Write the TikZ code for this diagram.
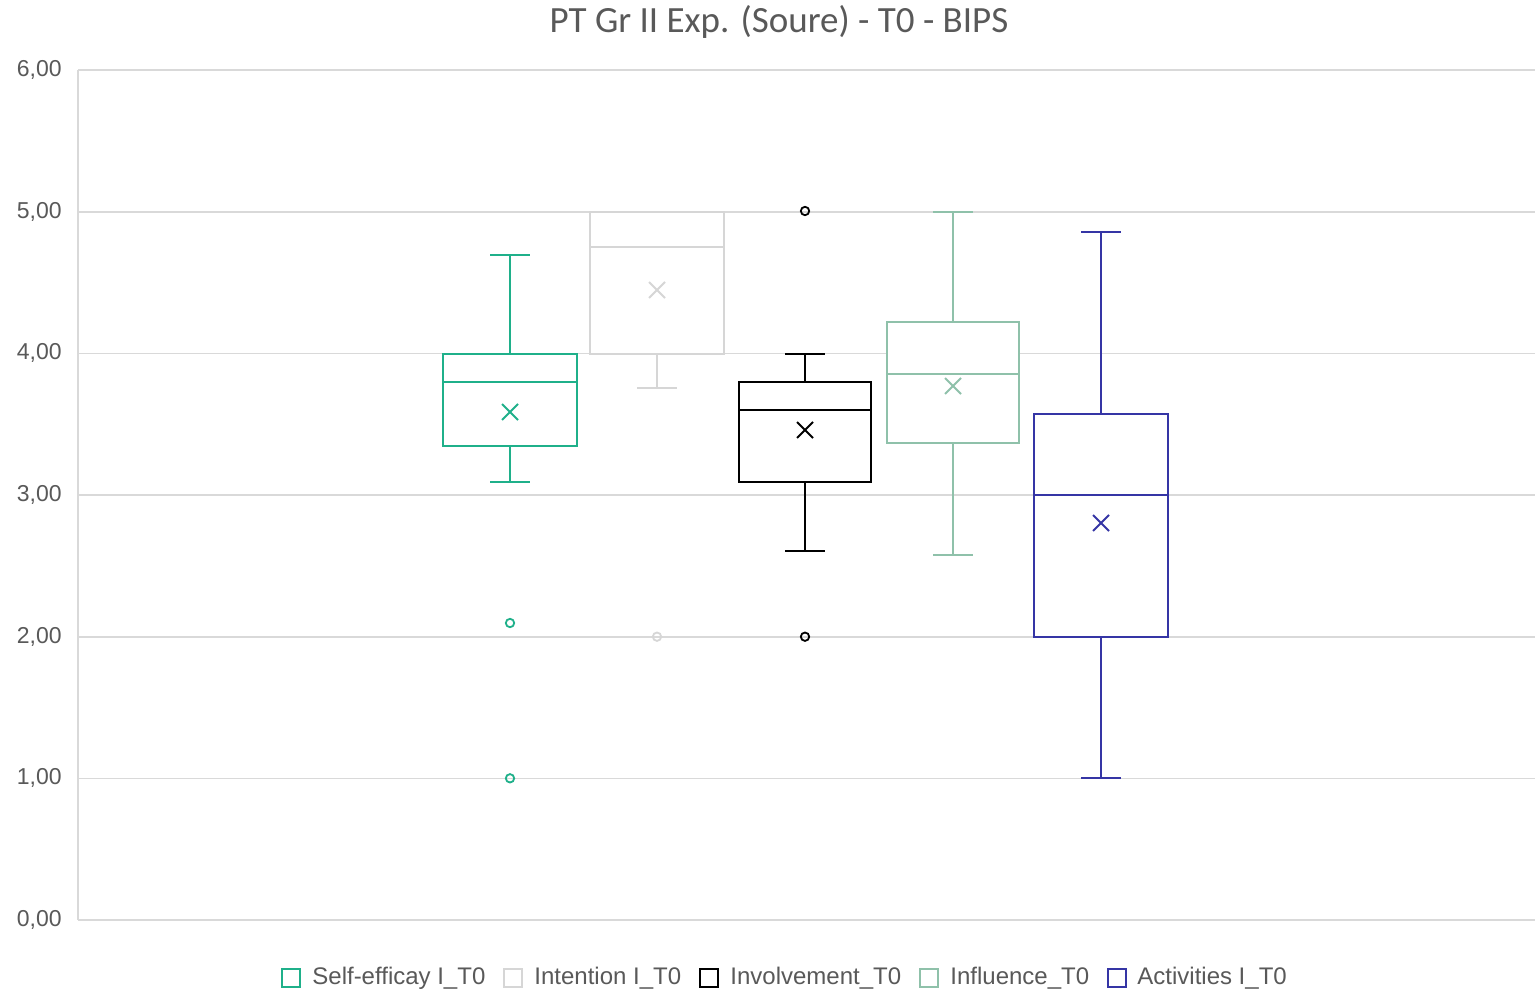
\documentclass[tikz,border=0pt]{standalone}
\usepackage{fontspec}
\setmainfont{Liberation Sans}
\newfontfamily\titlefont{Carlito}
\definecolor{cteal}{HTML}{1FB08A}
\definecolor{cgrayb}{HTML}{D6D6D6}
\definecolor{csage}{HTML}{8FC1AA}
\definecolor{cblue}{HTML}{3535A5}
\definecolor{cgrid}{HTML}{D9D9D9}
\definecolor{ctext}{HTML}{595959}
\newcommand\bxp[9]{%
  % #1 color, #2 center x, #3 half width, #4 q1, #5 q3, #6 median, #7 mean, #8 low, #9 high
  \draw[boxline,#1] (#2,#4) -- (#2,#8);
  \draw[boxline,#1] (#2-20,#8) -- (#2+20,#8);
  \draw[boxline,#1] (#2,#5) -- (#2,#9);
  \draw[boxline,#1] (#2-20,#9) -- (#2+20,#9);
  \draw[boxline,#1,fill=white] (#2-#3,#4) rectangle (#2+#3,#5);
  \draw[boxline,#1] (#2-#3,#6) -- (#2+#3,#6);
  \draw[meanline,#1] (#2-8,#7-8) -- (#2+8,#7+8) (#2-8,#7+8) -- (#2+8,#7-8);
}
\begin{document}
\begin{tikzpicture}[x=0.5pt,y=-0.5pt,
  gridline/.style={cgrid,line width=0.8pt},
  boxline/.style={line width=1pt},
  meanline/.style={line width=1pt},
  outl/.style={circle,draw,line width=0.9pt,inner sep=0pt,minimum size=4.2pt},
  tick/.style={text=ctext,font=\fontsize{11.5}{13}\selectfont,anchor=east,inner sep=0pt},
  legtext/.style={text=ctext,font=\fontsize{12}{14}\selectfont,anchor=west,inner sep=0pt},
  legbox/.style={draw,line width=1pt,minimum size=9.3pt,inner sep=0pt}]
\useasboundingbox[fill=white] (0,0) rectangle (1535,995);
% grid
\foreach \yy/\lab/\nm in {920/{0,00}/t0,778.3/{1,00}/t1,636.7/{2,00}/t2,495/{3,00}/t3,353.3/{4,00}/t4,211.7/{5,00}/t5,70/{6,00}/t6}{
  \draw[gridline] (78,\yy) -- (1535,\yy);
  \node[tick] (\nm) at (62,\yy) {\lab};
}
\draw[gridline] (78,70) -- (78,920);
% title
\node[text=ctext,font=\titlefont\fontsize{18.5}{21}\selectfont] (title) at (779,22) {PT Gr II Exp. (Soure) - T0 - BIPS};
% boxes
\bxp{cteal}{510}{67}{445.5}{354}{382}{412}{482}{255}
\bxp{cgrayb}{657}{67}{354}{211.7}{247}{290}{388}{211.7}
\bxp{black}{805}{66}{482}{382}{410}{430}{551}{354}
\bxp{csage}{953}{66}{443}{322}{374}{386}{555}{211.7}
\bxp{cblue}{1101}{67}{636.7}{414}{495}{523}{778.3}{232}
% outliers
\node[outl,cteal] (o1) at (510,623) {};
\node[outl,cteal] (o2) at (510,778.3) {};
\node[outl,cgrayb] (o3) at (657,636.7) {};
\node[outl,black] (o4) at (805,211) {};
\node[outl,black] (o5) at (805,636.7) {};
% legend
\node[legbox,cteal] (l1) at (291,978) {};
\node[legtext] (lt1) at (312,978) {Self-efficay I\_T0};
\node[legbox,cgrayb] (l2) at (513,978) {};
\node[legtext] (lt2) at (534,978) {Intention I\_T0};
\node[legbox,black] (l3) at (709,978) {};
\node[legtext] (lt3) at (730,978) {Involvement\_T0};
\node[legbox,csage] (l4) at (929,978) {};
\node[legtext] (lt4) at (950,978) {Influence\_T0};
\node[legbox,cblue] (l5) at (1117,978) {};
\node[legtext] (lt5) at (1137,978) {Activities I\_T0};
\end{tikzpicture}
\end{document}
